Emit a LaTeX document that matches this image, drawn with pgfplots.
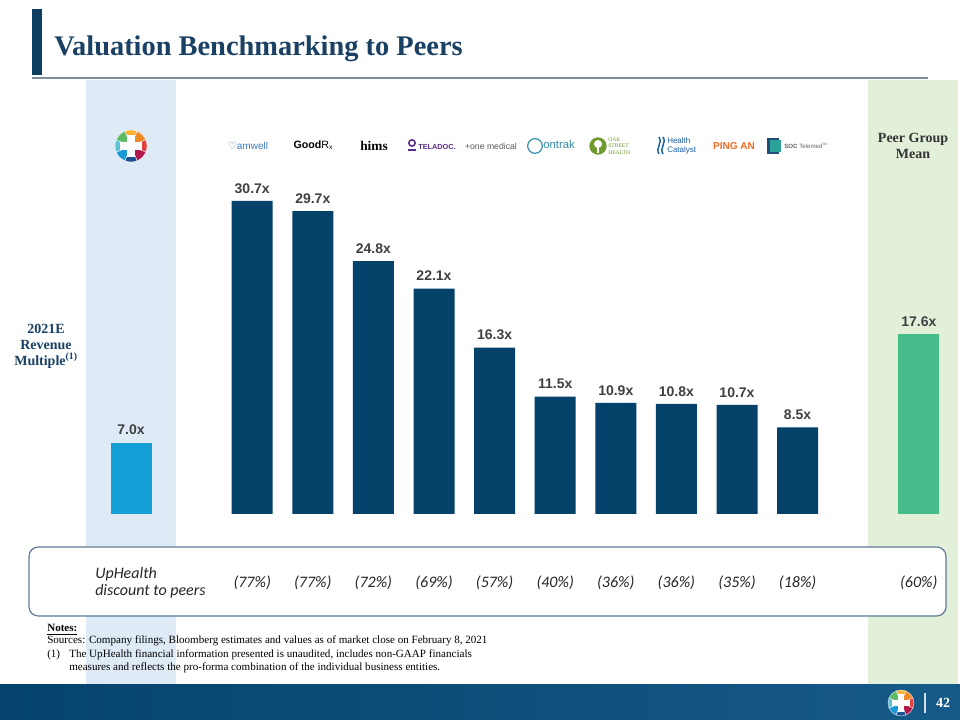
\documentclass[border=0pt]{standalone}
\usepackage{pgfplots}
\pgfplotsset{compat=1.18}
\usepackage{fontspec}
\setmainfont{Liberation Serif}
\newfontfamily\arialf{Liberation Sans}
\newfontfamily\calib{Carlito}
\newfontfamily\dejavu{DejaVu Sans}
\definecolor{navybar}{HTML}{04426A}
\definecolor{cyanbar}{HTML}{14A0D6}
\definecolor{greenbar}{HTML}{48BB8B}
\definecolor{panelblue}{HTML}{DEEBF7}
\definecolor{panelgreen}{HTML}{E2F0D9}
\definecolor{titlec}{HTML}{1A4063}
\definecolor{titlebar}{HTML}{0D3F63}
\definecolor{rulec}{HTML}{7D8C9C}
\definecolor{boxc}{HTML}{5E7C96}
\definecolor{footerL}{HTML}{05436C}
\definecolor{footerR}{HTML}{165A88}
\definecolor{labelc}{HTML}{404040}
\definecolor{logoY}{HTML}{F9B233}
\definecolor{logoO}{HTML}{F08A24}
\definecolor{logoR}{HTML}{E0413A}
\definecolor{logoC}{HTML}{B2174B}
\definecolor{logoN}{HTML}{1D4F91}
\definecolor{logoB}{HTML}{1A9AD6}
\definecolor{logoT}{HTML}{5BC5D6}
\definecolor{logoG}{HTML}{5DBB63}
\definecolor{amwellc}{HTML}{3B7CC4}
\definecolor{teladocc}{HTML}{5B2C86}
\definecolor{ontrakc}{HTML}{2F8EAB}
\definecolor{oakc}{HTML}{6E9A2E}
\definecolor{hcblue}{HTML}{1B5EA8}
\definecolor{pinganc}{HTML}{F26B22}
\definecolor{soc1}{HTML}{1F4E79}
\definecolor{soc2}{HTML}{2BA39A}
\newcommand{\uplogo}[3]{%
\begin{scope}[shift={(#1,#2)}, x=#3, y=#3]
\foreach \c [count=\i from 0] in {logoY,logoO,logoR,logoC,logoN,logoB,logoT,logoG}{
  \pgfmathsetmacro{\a}{90-\i*45+22.5}
  \pgfmathsetmacro{\b}{\a-45}
  \fill[\c, draw=white, line width=0.25pt] (0,0) -- (\a:1) arc[start angle=\a, end angle=\b, radius=1] -- cycle;
}
\fill[white] (-0.22,-0.7) rectangle (0.22,0.7);
\fill[white] (-0.7,-0.22) rectangle (0.7,0.22);
\end{scope}}
\begin{document}
\begin{tikzpicture}[x=0.75pt,y=0.75pt]
\useasboundingbox (0,0) rectangle (960,720);
\fill[white] (0,0) rectangle (960,720);
% panels
\fill[panelblue] (86,35) rectangle (176,640);
\fill[panelgreen] (868,35) rectangle (958,640);
% title
\fill[titlebar] (32,645) rectangle (42,711);
\draw[rulec, line width=1.1pt] (32,642) -- (928,642);
\node[anchor=base west, inner sep=0pt, text=titlec, font=\bfseries\fontsize{21.3}{25}\selectfont] at (54,664) {Valuation Benchmarking to Peers};
% left label
\node[align=center, text=titlec, font=\bfseries\fontsize{10.5}{12}\selectfont] at (46,374) {2021E\\Revenue\\Multiple\textsuperscript{(1)}};
% peer group mean
\node[align=center, text=black!80, font=\bfseries\fontsize{10.5}{12}\selectfont] at (913,574) {Peer Group\\Mean};
% logos
\uplogo{131}{574}{12pt}
\node[text=amwellc, font=\arialf\fontsize{7.5}{8}\selectfont] at (248,574) {{\dejavu\bfseries ♡}amwell};
\node[font=\arialf\bfseries\fontsize{8}{9}\selectfont] at (313,575) {Good{\mdseries R\raisebox{-1.2pt}{\fontsize{5}{5}\selectfont x}}};
\node[font=\bfseries\fontsize{10}{10}\selectfont] at (374,574) {hims};
\fill[teladocc] (412,577) circle[radius=3pt];
\fill[white] (412,577) circle[radius=1.6pt];
\fill[teladocc] (408,568.5) rectangle (416,570.5);
\node[anchor=west, inner sep=0pt, text=teladocc, font=\arialf\bfseries\fontsize{5.5}{6}\selectfont] at (418,573.5) {TELADOC.};
\node[text=black!65, font=\arialf\fontsize{6.5}{7}\selectfont] at (491,574) {+one medical};
\draw[ontrakc, line width=0.9pt] (535,574) circle[radius=5.5pt];
\node[anchor=west, inner sep=0pt, text=ontrakc, font=\arialf\fontsize{8.5}{9}\selectfont] at (543,576) {ontrak};
\fill[oakc] (598,574) circle[radius=6.5pt];
\fill[white] (598,576) circle[radius=3pt];
\fill[white] (597.2,567) rectangle (598.8,574);
\node[anchor=west, inner sep=0pt, align=left, text=oakc, font=\fontsize{4.2}{4.8}\selectfont] at (608,574) {OAK\\STREET\\HEALTH};
\draw[hcblue, line width=1.1pt] (659,566) .. controls (655,572) and (663,577) .. (659,583);
\draw[hcblue, line width=1.1pt] (663,566) .. controls (659,572) and (667,577) .. (663,583);
\node[anchor=west, inner sep=0pt, align=left, text=hcblue, font=\arialf\fontsize{6}{6.5}\selectfont] at (667,574) {Health\\Catalyst};
\node[text=pinganc, font=\arialf\bfseries\fontsize{7.5}{8}\selectfont] at (734,574) {PING AN};
\fill[soc1] (767,566) rectangle (779,582);
\fill[soc2] (770,568) rectangle (781,580);
\node[anchor=west, inner sep=0pt, text=black!60, font=\arialf\fontsize{4.6}{5}\selectfont] at (784,574) {\textbf{SOC} Telemed\raisebox{2pt}{\fontsize{2.5}{3}\selectfont TM}};
% discount box
\draw[boxc, line width=0.9pt, fill=white, rounded corners=7pt] (29,104) rectangle (946,173);
\node[anchor=west, align=left, inner sep=0pt, text=black!85, font=\calib\itshape\fontsize{12}{12.75}\selectfont] at (95,137) {UpHealth\\discount to peers};
% chart
\begin{axis}[
  at={(98.25pt,154.5pt)}, anchor=south west,
  x=45.45pt, y=7.65pt,
  xmin=0, xmax=13, ymin=0, ymax=32,
  hide axis, clip=false,
  ybar, bar width=0.6766,
  /pgf/number format/assume math mode=true,
  nodes near coords={\pgfmathprintnumber[fixed,fixed zerofill,precision=1,assume math mode=true]{\pgfplotspointmeta}x},
  every node near coord/.append style={inner sep=0pt, yshift=5.5pt, text=labelc, font=\arialf\bfseries\fontsize{10.5}{12}\selectfont},
]
\addplot[fill=cyanbar, draw=none, bar shift=0pt] coordinates {(0,7.0)};
\addplot[fill=navybar, draw=none, bar shift=0pt] coordinates {
(2,30.7) (3,29.7) (4,24.8) (5,22.1) (6,16.3) (7,11.5) (8,10.9) (9,10.8) (10,10.7) (11,8.5)};
\addplot[fill=greenbar, draw=none, bar shift=0pt] coordinates {(13,17.6)};
\foreach \xx/\pp in {2/77,3/77,4/72,5/69,6/57,7/40,8/36,9/36,10/35,11/18,13/60}{
  \edef\temp{\noexpand\node[text=black!85, font=\noexpand\calib\noexpand\itshape\noexpand\fontsize{12}{13}\noexpand\selectfont] at (axis cs:\xx,-6.76) {(\pp\noexpand\%)};}
  \temp
}
\end{axis}
% notes
\node[anchor=base west, inner sep=0pt, font=\bfseries\fontsize{8.3}{10}\selectfont] at (47,88) {\underline{Notes:}};
\node[anchor=base west, inner sep=0pt, font=\fontsize{8.3}{10}\selectfont] at (47,76) {Sources: Company filings, Bloomberg estimates and values as of market close on February 8, 2021};
\node[anchor=base west, inner sep=0pt, font=\fontsize{8.3}{10}\selectfont] at (47,62) {(1)};
\node[anchor=base west, inner sep=0pt, font=\fontsize{8.3}{10}\selectfont] at (69,62) {The UpHealth financial information presented is unaudited, includes non-GAAP financials};
\node[anchor=base west, inner sep=0pt, font=\fontsize{8.3}{10}\selectfont] at (69,49) {measures and reflects the pro-forma combination of the individual business entities.};
% footer
\shade[left color=footerL, right color=footerR] (0,0) rectangle (960,35);
\uplogo{901}{17}{9.75pt}
\draw[white!80!footerR, line width=0.8pt] (925,7) -- (925,27);
\node[text=white, font=\bfseries\fontsize{10.5}{12}\selectfont] at (943,17) {42};
\end{tikzpicture}
\end{document}
